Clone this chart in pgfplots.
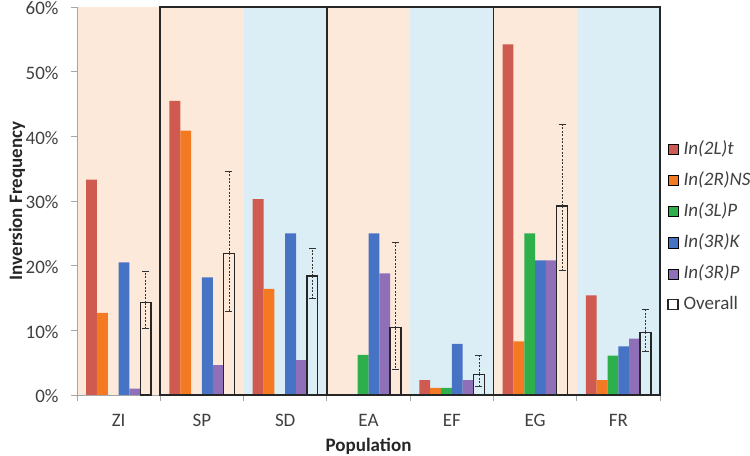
\documentclass[border=0pt]{standalone}
\usepackage{fontspec}
\setmainfont{Carlito}
\usepackage{pgfplots}
\usepackage{pgfplotstable}
\pgfplotsset{compat=1.18}
\definecolor{cRed}{HTML}{CF5A50}
\definecolor{cOrange}{HTML}{F37A22}
\definecolor{cGreen}{HTML}{2DB04B}
\definecolor{cBlue}{HTML}{4773C4}
\definecolor{cPurple}{HTML}{8F70B8}
\definecolor{peach}{HTML}{FDE9DA}
\definecolor{lblue}{HTML}{DCEEF5}
\definecolor{axgray}{HTML}{A6A6A6}
\definecolor{txgray}{HTML}{404040}
\newcommand\chartfont{\fontsize{19bp}{22bp}\selectfont}

\pgfplotstableread{
x red orange green blue purple overall ep em
0 33.3 12.7 nan 20.5 1.0 14.3 4.8 4.0
1 45.5 40.9 nan 18.2 4.6 21.9 12.6 8.9
2 30.3 16.4 nan 25.0 5.4 18.4 4.3 3.5
3 nan nan 6.2 25.0 18.8 10.4 13.2 6.4
4 2.3 1.1 1.1 7.9 2.3 3.2 3.0 1.8
5 54.2 8.3 25.0 20.8 20.8 29.2 12.7 10.0
6 15.4 2.3 6.1 7.5 8.7 9.7 3.5 2.9
}\data

\begin{document}
\begin{tikzpicture}
\begin{axis}[
  name=ax, set layers, scale only axis,
  width=583bp, height=388bp,
  xmin=-0.5, xmax=6.5, ymin=0, ymax=60,
  axis x line*=bottom, axis y line*=left,
  axis line style={draw=axgray, line width=0.8bp},
  xtick={0,...,6}, xticklabels={ZI,SP,SD,EA,EF,EG,FR},
  major x tick style={draw=none},
  minor xtick={-0.5,0.5,...,6.5},
  minor tick length=6bp, major tick length=6bp,
  tick align=outside,
  tick style={draw=axgray, line width=0.8bp},
  ytick={0,10,...,60},
  /pgf/number format/assume math mode=true,
  yticklabel={\pgfmathprintnumber{\tick}\%},
  ticklabel style={font=\chartfont, text=txgray},
  yticklabel style={xshift=-9bp, yshift=-1.5bp},
  xticklabel style={yshift=-10bp},
  xlabel={\fontsize{19bp}{22bp}\selectfont\bfseries Population},
  ylabel={\fontsize{19bp}{22bp}\selectfont\bfseries Inversion Frequency},
  xlabel style={text=black!85, at={([yshift=-51bp]rel axis cs:0.5,0)}, anchor=center},
  ylabel style={text=black!85, at={([xshift=-60bp]rel axis cs:0,0.5)}, anchor=center},
  clip=false,
  legend image code/.code={\draw[#1] (0bp,-5bp) rectangle (10bp,5bp);},
  legend style={at={(rel axis cs:1,1)}, anchor=north west, xshift=7bp, yshift=-134bp,
    draw=none, fill=none, font=\chartfont, text=txgray, row sep=14bp, inner sep=0pt,
    nodes={inner sep=0pt, text height=13bp, text depth=4bp},
    column sep=5bp},
  legend cell align=left,
]
\begin{pgfonlayer}{axis background}
\fill[peach] (axis cs:-0.5,0) rectangle (axis cs:1.5,60);
\fill[lblue] (axis cs:1.5,0) rectangle (axis cs:2.5,60);
\fill[peach] (axis cs:2.5,0) rectangle (axis cs:3.5,60);
\fill[lblue] (axis cs:3.5,0) rectangle (axis cs:4.5,60);
\fill[peach] (axis cs:4.5,0) rectangle (axis cs:5.5,60);
\fill[lblue] (axis cs:5.5,0) rectangle (axis cs:6.5,60);
\end{pgfonlayer}
\addplot[ybar, bar width=0.13, bar shift=0pt, draw=none, fill=cRed]
  table[x expr=\thisrow{x}-0.325, y=red] {\data};
\addplot[ybar, bar width=0.13, bar shift=0pt, draw=none, fill=cOrange]
  table[x expr=\thisrow{x}-0.195, y=orange] {\data};
\addplot[ybar, bar width=0.13, bar shift=0pt, draw=none, fill=cGreen]
  table[x expr=\thisrow{x}-0.065, y=green] {\data};
\addplot[ybar, bar width=0.13, bar shift=0pt, draw=none, fill=cBlue]
  table[x expr=\thisrow{x}+0.065, y=blue] {\data};
\addplot[ybar, bar width=0.13, bar shift=0pt, draw=none, fill=cPurple]
  table[x expr=\thisrow{x}+0.195, y=purple] {\data};
\addplot[ybar, bar width=0.13, bar shift=0pt, draw=black!85, line width=1.4bp, fill=none,
  error bars/.cd, y dir=both, y explicit,
  error bar style={dash pattern=on 2bp off 1.5bp, line width=0.7bp, black!80},
  error mark=-, error mark options={solid, rotate=90, line width=0.8bp, mark size=3.5bp, black!80}]
  table[x expr=\thisrow{x}+0.325, y=overall, y error plus=ep, y error minus=em] {\data};
\legend{\textit{In(2L)t},\textit{In(2R)NS},\textit{In(3L)P},\textit{In(3R)K},\textit{In(3R)P},Overall}
\draw[black!85, line width=1.6bp] (axis cs:0.5,0) rectangle (axis cs:2.5,60);
\draw[black!85, line width=1.6bp] (axis cs:2.5,0) rectangle (axis cs:4.5,60);
\draw[black!85, line width=1.6bp] (axis cs:4.5,0) rectangle (axis cs:6.5,60);
\end{axis}
\pgfresetboundingbox
\path ([shift={(-77bp,-61bp)}]ax.south west) rectangle ([shift={(90bp,7bp)}]ax.north east);
\end{tikzpicture}
\end{document}
